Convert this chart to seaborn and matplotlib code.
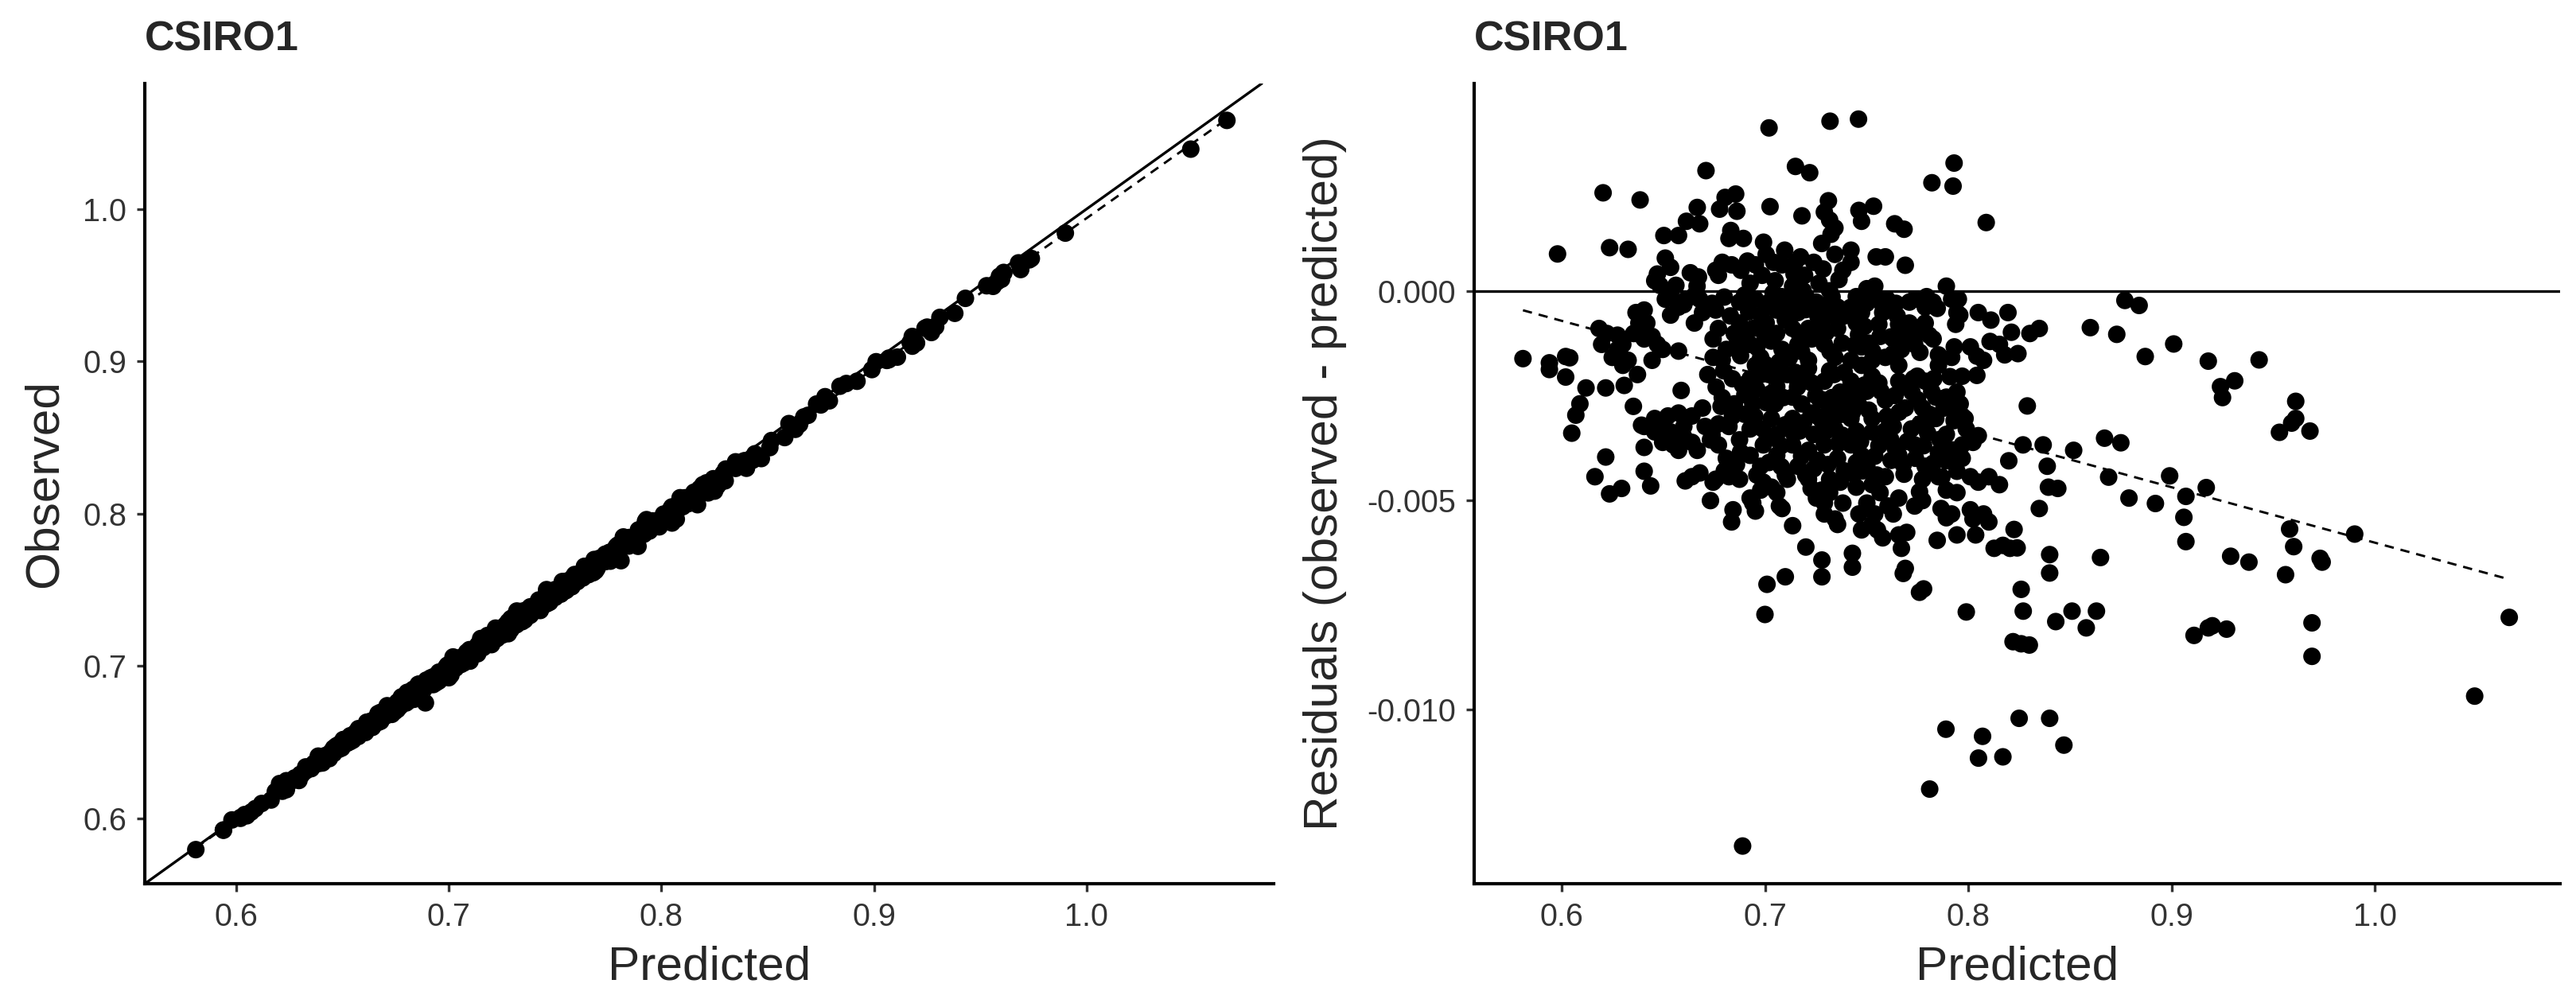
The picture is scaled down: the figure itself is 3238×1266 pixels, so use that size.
import numpy as np
import pandas as pd
import matplotlib
matplotlib.use("Agg")
import matplotlib.pyplot as plt
import seaborn as sns

# ── Data: (predicted, residual x 1000) ─────────────────────────────────────────
left_edge = [
    (0.581, -1.62), (0.594, -1.72), (0.594, -1.88), (0.598, 0.88), (0.602, -1.57),
    (0.602, -2.06), (0.604, -1.60), (0.605, -3.40), (0.607, -2.97), (0.609, -2.70),
    (0.612, -2.32),
]

top_points = [
    (0.671, 2.87), (0.702, 3.89), (0.715, 2.97), (0.722, 2.82), (0.732, 4.05),
    (0.746, 4.10), (0.793, 3.05),
]

upper_left_cloud = [
    (0.6204, 2.34), (0.6386, 2.17), (0.6667, 1.99), (0.6777, 1.95), (0.6804, 2.23),
    (0.6856, 2.31), (0.6862, 1.90), (0.7025, 2.01), (0.7182, 1.79), (0.7312, 2.15),
    (0.6614, 1.66), (0.6679, 1.60), (0.6503, 1.32), (0.6575, 1.32), (0.6832, 1.44),
    (0.6894, 1.25), (0.6823, 1.25), (0.6993, 1.16), (0.6236, 1.03), (0.6327, 0.99),
    (0.7097, 0.97), (0.7175, 0.81), (0.7318, 1.69), (0.7325, 1.35), (0.7279, 1.13),
    (0.6510, 0.78), (0.6536, 0.56), (0.6471, 0.40), (0.6484, 0.13), (0.6562, 0.13),
    (0.6633, 0.43), (0.6673, 0.33), (0.6666, 0.11), (0.6790, 0.68), (0.6771, 0.37),
    (0.6914, 0.71), (0.6882, 0.49), (0.7043, 0.68), (0.6986, 0.37), (0.7050, 0.24),
    (0.7143, 0.40), (0.7195, 0.37), (0.7286, 0.52), (0.7364, 0.27),
    (0.6510, -0.20), (0.6575, -0.39), (0.6653, -0.11), (0.6679, -0.20), (0.6653, -0.77),
    (0.6758, -0.46), (0.6771, -0.90), (0.6875, -0.27), (0.6875, -0.77), (0.6953, -0.20),
    (0.6979, -0.58), (0.7082, -0.14), (0.7057, -0.46), (0.7188, 0.00), (0.7162, -0.52),
    (0.7252, -0.27), (0.7318, 0.00), (0.7357, -0.39), (0.7279, -0.77), (0.7357, -0.90),
    (0.6406, -0.46), (0.6419, -0.77), (0.6354, -1.02), (0.6471, -1.28), (0.6184, -0.90),
    (0.6197, -1.28), (0.6275, -1.06), (0.6275, -1.40), (0.6327, -1.66), (0.6445, -1.09),
    (0.6575, -1.44), (0.6745, -1.15), (0.6810, -1.40), (0.6745, -1.59), (0.6927, -1.28),
    (0.6979, -1.59), (0.7057, -1.02), (0.7084, -1.40), (0.7162, -1.28), (0.7214, -1.66),
    (0.7292, -1.28), (0.7344, -1.59), (0.7006, -0.77), (0.7136, -0.90), (0.7214, -0.90),
    (0.6849, -1.02),
    (0.6800, -0.15), (0.6830, -0.60), (0.6900, -1.05), (0.6920, -0.50), (0.6960, -1.35),
    (0.7010, -0.30), (0.7030, -1.20), (0.7100, -0.70), (0.7120, -1.60), (0.7150, -0.20),
    (0.7200, -0.45), (0.7230, -1.15), (0.7260, -0.60), (0.7300, -1.00), (0.7330, -0.15),
    (0.7380, -1.25), (0.7390, -0.60), (0.6790, -1.65), (0.6880, -1.55), (0.7170, -1.05),
    (0.6740, -0.30), (0.6860, -1.30), (0.6940, -0.90), (0.7000, -1.10), (0.7040, -0.05),
    (0.7070, -1.70), (0.7110, -0.35), (0.7180, -1.45), (0.7210, -0.20), (0.7240, -0.90),
    (0.7290, -0.45), (0.7320, -1.45), (0.7350, -0.65), (0.7000, -1.75), (0.6900, -0.10),
    (0.6458, 0.24), (0.6536, -0.08), (0.6601, -0.33), (0.6536, -0.58), (0.6693, -0.52),
    (0.6614, -0.20), (0.6366, -0.52), (0.6380, -0.77), (0.6406, -1.15), (0.6223, -1.02),
    (0.6301, -1.28), (0.6497, -1.40), (0.6445, -1.66), (0.6249, -1.59),
    (0.6758, 0.49), (0.6836, 0.62), (0.6953, 0.62), (0.7006, 0.87), (0.7084, 0.62),
    (0.7149, 0.68), (0.7240, 0.68), (0.7344, 0.87), (0.7383, 0.49), (0.6927, 0.18),
    (0.7136, 0.11), (0.7266, 0.18), (0.7292, 1.88), (0.7344, 1.50),
]

upper_right_cloud = [
    (0.7462, 1.92), (0.7534, 2.02), (0.7475, 1.66), (0.7638, 1.60), (0.7684, 1.47),
    (0.8088, 1.63), (0.7821, 2.58), (0.7925, 2.50), (0.7423, 0.97), (0.7423, 0.68),
    (0.7547, 0.81), (0.7592, 0.81), (0.7690, 0.61), (0.7540, 0.11), (0.7892, 0.11),
    (0.7553, -0.20), (0.7644, -0.30), (0.7710, -0.27), (0.7795, -0.14), (0.7788, -0.39),
    (0.7847, -0.42), (0.7951, -0.20), (0.7958, -0.58), (0.7938, -0.80), (0.8049, -0.52),
    (0.8111, -0.70), (0.8195, -0.52), (0.8212, -0.99), (0.8303, -1.02), (0.8349, -0.90),
    (0.7755, -0.99), (0.7807, -1.06), (0.7657, -0.80), (0.7579, -0.52), (0.7566, -1.09),
    (0.7671, -1.40), (0.7762, -1.47), (0.7853, -1.53), (0.7931, -1.34), (0.8042, -1.56),
    (0.8107, -1.21), (0.8153, -1.28), (0.8244, -1.50), (0.7449, -0.14), (0.7449, -0.77),
    (0.7475, -1.34), (0.7423, -1.66), (0.7527, -1.66), (0.7592, -1.59), (0.7475, -0.52),
    (0.7420, -0.40), (0.7460, -1.05), (0.7500, -0.30), (0.7510, -1.25), (0.7560, -0.80),
    (0.7620, -1.10), (0.7600, -0.20), (0.7680, -0.95),
    (0.7440, -1.30), (0.7490, -0.85), (0.7530, -1.45), (0.7580, -0.35), (0.7630, -1.50),
    (0.7650, -0.60), (0.7700, -1.20),
    (0.7501, 0.05), (0.7736, -0.20), (0.7827, -0.27), (0.7918, -0.20), (0.7944, -0.52),
    (0.7710, -0.77), (0.7788, -0.77), (0.7631, -1.15), (0.7736, -1.28), (0.7827, -1.15),
    (0.7918, -1.59), (0.8010, -1.34), (0.8075, -1.66), (0.8179, -1.53),
]

lower_left_cloud = [
    (0.6301, -1.78), (0.6373, -2.00), (0.6217, -2.32), (0.6308, -2.26), (0.6588, -2.38),
    (0.6719, -2.00), (0.6353, -2.76), (0.6393, -3.21), (0.6484, -3.11), (0.6575, -2.92),
    (0.6693, -2.80), (0.6784, -2.76), (0.6549, -3.68), (0.6601, -3.49), (0.6667, -3.81),
    (0.6406, -3.74), (0.6217, -3.97), (0.6164, -4.44), (0.6406, -4.31), (0.6438, -4.66),
    (0.6236, -4.85), (0.6295, -4.72), (0.6608, -4.54), (0.6680, -4.35), (0.6758, -4.50),
    (0.6732, -5.01), (0.6843, -5.23), (0.6836, -5.52), (0.6940, -5.07), (0.7071, -5.14),
    (0.7136, -5.61), (0.7201, -6.12), (0.7345, -5.45), (0.7292, -5.07), (0.7227, -4.72),
    (0.7318, -4.50), (0.7110, -4.50), (0.6992, -4.57), (0.6875, -4.50), (0.6771, -3.68),
    (0.6823, -3.24), (0.6875, -3.56), (0.6771, -3.18), (0.6927, -3.30), (0.6927, -3.93),
    (0.6992, -3.68), (0.6979, -4.19), (0.7058, -3.43), (0.7058, -3.93), (0.7136, -3.68),
    (0.7162, -4.19), (0.7214, -3.81), (0.7292, -3.68), (0.7357, -4.00), (0.6901, -2.48),
    (0.6927, -2.10), (0.7006, -2.67), (0.7058, -2.29), (0.7032, -3.05), (0.7136, -2.54),
    (0.7136, -3.05), (0.7188, -2.16), (0.7227, -2.92), (0.7318, -2.80), (0.7292, -2.16),
    (0.7370, -2.42), (0.7344, -3.30), (0.7240, -3.43), (0.6953, -1.78), (0.7058, -1.91),
    (0.7214, -1.85), (0.7318, -1.91), (0.6797, -1.91), (0.6979, -4.76), (0.7058, -4.82),
    (0.7279, -4.76), (0.7370, -4.57),
    (0.6760, -2.30), (0.6840, -2.10), (0.6850, -2.70), (0.6810, -4.00), (0.6860, -4.15),
    (0.6900, -2.95), (0.6960, -2.35), (0.6950, -3.00), (0.6990, -3.30), (0.7020, -2.00),
    (0.7050, -2.70), (0.7080, -4.20), (0.7100, -3.20), (0.7110, -2.00), (0.7170, -3.35),
    (0.7180, -2.70), (0.7200, -4.40), (0.7250, -2.50), (0.7260, -4.05), (0.7280, -3.10),
    (0.7330, -2.55), (0.7360, -3.65), (0.7390, -1.95), (0.7390, -2.95), (0.7160, -2.30),
    (0.6740, -3.45), (0.6790, -2.55), (0.6800, -4.30), (0.6840, -3.00), (0.6880, -3.85),
    (0.6890, -2.25), (0.6940, -2.70), (0.6960, -4.40), (0.6980, -2.00), (0.7010, -3.55),
    (0.7020, -4.10), (0.7030, -2.45), (0.7080, -3.70), (0.7090, -2.55), (0.7100, -4.40),
    (0.7140, -3.40), (0.7150, -1.95), (0.7180, -3.95), (0.7190, -3.15), (0.7230, -2.20),
    (0.7240, -4.25), (0.7260, -3.00), (0.7270, -2.60), (0.7300, -3.35), (0.7310, -4.15),
    (0.7340, -2.00), (0.7350, -3.00), (0.7380, -3.45), (0.7390, -4.30), (0.7370, -2.70),
    (0.6406, -3.24), (0.6458, -3.05), (0.6523, -2.99), (0.6536, -3.37), (0.6601, -3.24),
    (0.6641, -2.99), (0.6706, -3.24), (0.6732, -3.56), (0.6641, -3.62), (0.6575, -3.81),
    (0.6497, -3.62), (0.6458, -3.37), (0.6641, -4.44), (0.6745, -4.57), (0.6823, -4.44),
    (0.6927, -4.95), (0.6953, -5.26), (0.7032, -4.69), (0.7084, -5.20), (0.7214, -4.50),
    (0.7253, -4.95), (0.7292, -5.33), (0.7357, -5.58), (0.7318, -4.82), (0.7383, -5.07),
]

lower_right_cloud = [
    (0.8042, -2.02), (0.8290, -2.75), (0.7970, -2.99), (0.8049, -3.46), (0.8199, -4.06),
    (0.8269, -3.68), (0.8368, -3.68), (0.8388, -4.19), (0.8518, -3.81), (0.8153, -4.63),
    (0.8394, -4.69), (0.8440, -4.72), (0.8349, -5.20), (0.8225, -5.70), (0.8101, -5.52),
    (0.8036, -5.83), (0.7944, -5.83), (0.7847, -5.96), (0.7892, -5.42), (0.8010, -5.23),
    (0.8049, -4.57), (0.7944, -4.31), (0.7892, -4.76), (0.7775, -5.01), (0.7697, -5.77),
    (0.7605, -5.14), (0.7527, -5.58), (0.7579, -5.90), (0.7462, -5.33), (0.7671, -6.15),
    (0.8127, -6.15), (0.8205, -6.15), (0.7436, -4.38), (0.7527, -4.63), (0.7684, -4.38),
    (0.7775, -4.50), (0.7827, -4.12), (0.7658, -3.93), (0.7592, -4.44), (0.7475, -3.93),
    (0.7423, -3.68), (0.7527, -3.37), (0.7631, -3.24), (0.7762, -3.18), (0.7892, -3.43),
    (0.7853, -3.87), (0.7970, -3.68), (0.7775, -2.80), (0.7892, -2.54), (0.7944, -2.42),
    (0.7788, -2.16), (0.7658, -2.16), (0.7527, -2.04), (0.7423, -2.16), (0.7462, -2.73),
    (0.7592, -2.61), (0.7527, -3.05), (0.7423, -3.05), (0.7723, -2.42), (0.7853, -1.78),
    (0.7658, -1.78), (0.7475, -1.78), (0.7618, -3.55), (0.7501, -4.19), (0.7566, -4.82),
    (0.7440, -2.45), (0.7450, -3.35), (0.7480, -4.30), (0.7500, -2.40), (0.7560, -2.20),
    (0.7560, -3.70), (0.7600, -3.00), (0.7620, -4.05), (0.7640, -2.50), (0.7690, -2.80),
    (0.7700, -3.60), (0.7730, -2.10), (0.7740, -4.00), (0.7800, -3.40), (0.7820, -2.40),
    (0.7840, -3.05), (0.7870, -4.45), (0.7910, -2.05), (0.7930, -3.10), (0.7760, -4.80),
    (0.7430, -2.90), (0.7450, -4.10), (0.7470, -3.60), (0.7490, -2.25), (0.7510, -2.85),
    (0.7540, -3.95), (0.7550, -4.40), (0.7570, -2.40), (0.7590, -3.35), (0.7640, -3.75),
    (0.7660, -2.90), (0.7680, -4.15), (0.7700, -2.30), (0.7720, -3.30), (0.7750, -2.60),
    (0.7780, -3.70), (0.7800, -4.30), (0.7810, -2.95), (0.7830, -2.10), (0.7860, -3.55),
    (0.7880, -2.80), (0.7900, -4.05), (0.7920, -3.80), (0.7960, -2.70), (0.7990, -3.30),
    (0.7984, -3.05), (0.8023, -3.62), (0.7970, -4.00), (0.8010, -4.44), (0.8101, -4.44),
    (0.7944, -4.82), (0.7866, -5.20), (0.7918, -5.33), (0.8023, -5.45), (0.8075, -5.33),
    (0.7736, -5.14), (0.7658, -4.95), (0.7631, -5.33), (0.7501, -5.07), (0.7449, -4.69),
    (0.7540, -5.33), (0.7475, -5.71), (0.7553, -5.71), (0.7658, -5.83), (0.7853, -4.44),
    (0.7892, -4.06), (0.7788, -4.19), (0.7736, -3.68), (0.7827, -3.05), (0.7918, -2.80),
    (0.7840, -2.54), (0.7970, -2.04), (0.7749, -2.04), (0.7553, -2.29), (0.7475, -2.42),
    (0.7423, -2.54),
]

right_tail = [
    (0.877, -0.23), (0.884, -0.35), (0.860, -0.88), (0.873, -1.04), (0.901, -1.27),
    (0.887, -1.57), (0.918, -1.68), (0.943, -1.65), (0.931, -2.15), (0.924, -2.29),
    (0.925, -2.55), (0.961, -2.64), (0.961, -3.05), (0.953, -3.38), (0.968, -3.35),
    (0.959, -3.16), (0.867, -3.52), (0.875, -3.63), (0.899, -4.42), (0.869, -4.45),
    (0.917, -4.70), (0.907, -4.91), (0.879, -4.95), (0.892, -5.08), (0.906, -5.41),
    (0.907, -5.99), (0.958, -5.69), (0.960, -6.11), (0.990, -5.81), (0.973, -6.39),
    (0.974, -6.48), (0.929, -6.34), (0.938, -6.48), (0.956, -6.78), (0.865, -6.37),
    (1.066, -7.80), (0.969, -7.93), (0.969, -8.73), (1.049, -9.68), (0.911, -8.23),
    (0.918, -8.05), (0.920, -8.00), (0.927, -8.08),
]

low_points = [
    (0.851, -7.65), (0.858, -8.05), (0.863, -7.65), (0.843, -7.90), (0.827, -7.65),
    (0.826, -7.13), (0.822, -8.38), (0.826, -8.43), (0.830, -8.46), (0.799, -7.67),
    (0.840, -6.74), (0.840, -6.30), (0.824, -6.14), (0.817, -6.08), (0.778, -7.12),
    (0.776, -7.20), (0.768, -6.75), (0.769, -6.63), (0.700, -7.73), (0.701, -7.01),
    (0.710, -6.83), (0.728, -6.83), (0.728, -6.43), (0.743, -6.60), (0.743, -6.27),
    (0.689, -13.26), (0.781, -11.90), (0.789, -10.47), (0.807, -10.64), (0.805, -11.16),
    (0.817, -11.13), (0.825, -10.21), (0.840, -10.21), (0.847, -10.85),
]

pairs = (left_edge + top_points + upper_left_cloud + upper_right_cloud
         + lower_left_cloud + lower_right_cloud + right_tail + low_points)
df = pd.DataFrame(pairs, columns=["predicted", "resid_e3"])
df["residual"] = df["resid_e3"] / 1000.0
df["observed"] = df["predicted"] + df["residual"]

# ── Figure layout (pixels of the 3238x1266 target) ────────────────────────────
W, H, DPI = 3238, 1266, 300

sns.set_style("ticks")
plt.rcParams["font.family"] = ["Liberation Sans", "DejaVu Sans"]
plt.rcParams["axes.unicode_minus"] = False

fig = plt.figure(figsize=(W / DPI, H / DPI), dpi=DPI)
ax1 = fig.add_axes([182 / W, 155 / H, 1419 / W, 1006 / H])
ax2 = fig.add_axes([1853 / W, 155 / H, 1365 / W, 1006 / H])

dot = dict(s=28, color="black", linewidth=0, edgecolor="none", zorder=3)
dash = dict(color="black", lw=0.7, ls=(0, (4, 3)), zorder=4)

# Observed vs predicted
sns.scatterplot(data=df, x="predicted", y="observed", ax=ax1, **dot)
ax1.axline((0.6, 0.6), slope=1, color="black", lw=0.8, zorder=2)
sns.regplot(data=df, x="predicted", y="observed", ax=ax1, scatter=False,
            ci=None, line_kws=dash)
ax1.set_xlim(0.557, 1.088)
ax1.set_ylim(0.557, 1.0824)
ax1.set_xticks([0.6, 0.7, 0.8, 0.9, 1.0])
ax1.set_yticks([0.6, 0.7, 0.8, 0.9, 1.0])
ax1.set_xticklabels(["0.6", "0.7", "0.8", "0.9", "1.0"])
ax1.set_yticklabels(["0.6", "0.7", "0.8", "0.9", "1.0"])
ax1.set_xlabel("Predicted", fontsize=14.5, labelpad=4)
ax1.set_ylabel("Observed", fontsize=14.5, labelpad=5)

# Residuals vs predicted
sns.scatterplot(data=df, x="predicted", y="residual", ax=ax2, **dot)
ax2.axhline(0, color="black", lw=0.8, zorder=2)
sns.regplot(data=df, x="predicted", y="residual", ax=ax2, scatter=False,
            ci=None, line_kws=dash)
ax2.set_xlim(0.557, 1.091)
ax2.set_ylim(-0.01416, 0.00495)
ax2.set_xticks([0.6, 0.7, 0.8, 0.9, 1.0])
ax2.set_xticklabels(["0.6", "0.7", "0.8", "0.9", "1.0"])
ax2.set_yticks([0.0, -0.005, -0.010])
ax2.set_yticklabels(["0.000", "-0.005", "-0.010"])
ax2.set_xlabel("Predicted", fontsize=14.5, labelpad=4)
ax2.set_ylabel("Residuals (observed - predicted)", fontsize=14.5, labelpad=6)

for ax in (ax1, ax2):
    sns.despine(ax=ax)
    for side in ("left", "bottom"):
        ax.spines[side].set_linewidth(1.0)
        ax.spines[side].set_color("black")
    ax.tick_params(labelsize=9.5, length=2.5, width=0.8, color="#333333",
                   labelcolor="#333333", pad=3)
    ax.set_title("CSIRO1", loc="left", fontsize=12.5, fontweight="bold", pad=10)

fig.savefig("out.png", dpi=DPI)
